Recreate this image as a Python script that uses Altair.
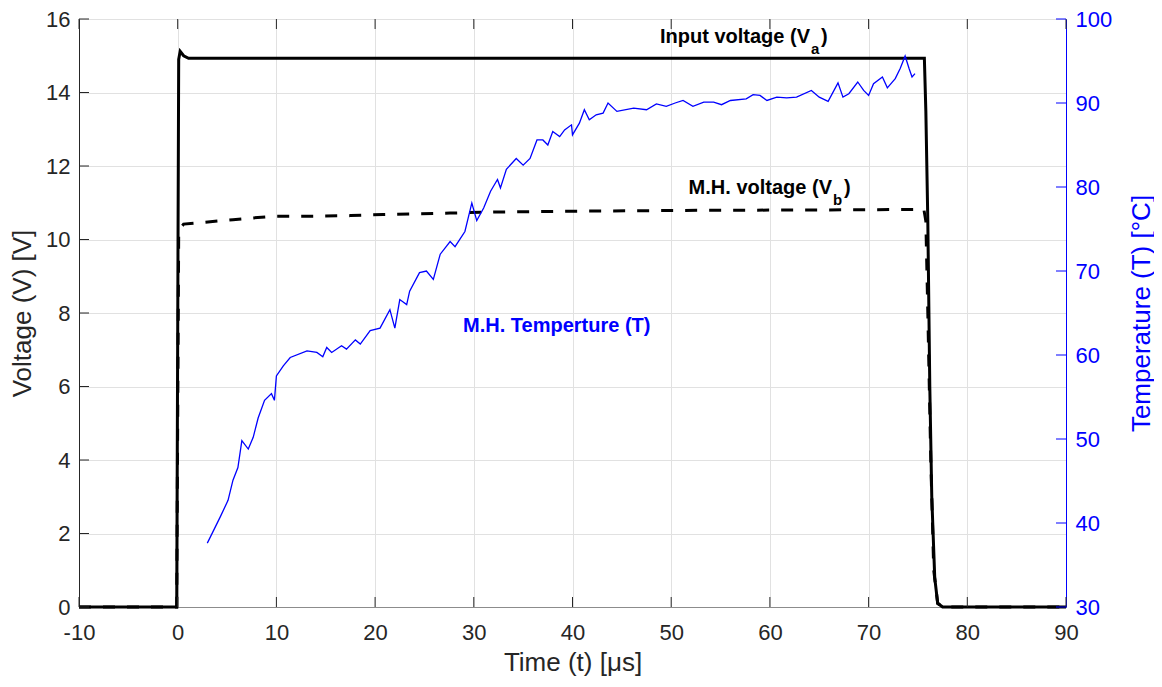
import altair as alt
import pandas as pd

# ---------------- data ----------------
# Input voltage (Va)
va_t = [-10, -0.1, 0.1, 0.25, 0.6, 1.1, 75.65, 75.8, 76.0, 76.2, 76.4, 76.7, 77.0, 77.5, 90]
va_v = [0, 0, 14.9, 15.12, 15.0, 14.93, 14.93, 13.5, 10.5, 6.0, 3.0, 0.8, 0.1, 0.0, 0]

# M.H. voltage (Vb)
vb_t = [-10, -0.1, 0.1, 0.3, 0.6, 1.9, 5.6, 7.3, 9.7, 12.4, 17.5, 20.8, 24.2, 27.6,
        32.6, 40, 50, 60, 70, 75.6, 75.8, 76.0, 76.3, 76.6, 77.0, 77.5, 90]
vb_v = [0, 0, 10.2, 10.31, 10.42, 10.45, 10.54, 10.58, 10.63, 10.63, 10.65, 10.68, 10.70, 10.72,
        10.75, 10.77, 10.79, 10.80, 10.81, 10.82, 10.5, 8.0, 4.0, 1.0, 0.1, 0, 0]

# M.H. temperature (T)
temp_t = [3.0, 4.3, 5.1, 5.6, 6.1, 6.5, 7.15, 7.65, 8.15, 8.8, 9.5, 9.8, 10.0, 10.7, 11.4,
          13.1, 14.1, 14.7, 15.1, 15.6, 16.6, 17.1, 18.0, 18.5, 19.5, 20.5, 21.5, 22.0,
          22.5, 23.2, 23.5, 24.5, 25.2, 25.9, 26.6, 27.6, 28.1, 29.1, 29.8, 30.3, 31.0,
          31.7, 32.4, 32.7, 33.3, 34.3, 35.0, 35.7, 36.4, 37.0, 37.5, 38.0, 38.7, 39.2,
          39.9, 40.0, 40.7, 41.2, 41.7, 42.4, 43.1, 43.6, 44.5, 46.2, 47.5, 48.5, 49.5,
          50.4, 51.2, 52.2, 53.3, 54.3, 55.1, 56.0, 57.6, 58.3, 59.0, 59.7, 60.7, 61.7,
          62.7, 64.2, 65.0, 65.9, 66.9, 67.4, 68.0, 68.9, 69.5, 70.0, 70.5, 71.4, 71.9,
          72.7, 73.2, 73.7, 74.1, 74.4, 74.7]
temp_T = [37.6, 40.7, 42.7, 45.1, 46.6, 49.8, 48.8, 50.2, 52.5, 54.6, 55.4, 54.6, 57.5, 58.7, 59.7,
          60.5, 60.3, 59.8, 60.9, 60.3, 61.1, 60.7, 61.8, 61.3, 62.9, 63.2, 65.4, 63.2,
          66.6, 66.0, 67.6, 69.8, 70.0, 69.0, 72.0, 73.5, 72.9, 74.7, 78.1, 76.0, 77.5,
          79.5, 80.9, 79.9, 82.1, 83.4, 82.6, 83.4, 85.6, 85.6, 85.0, 86.6, 86.0, 86.8,
          87.4, 86.2, 87.6, 89.2, 88.0, 88.6, 88.8, 90.0, 89.0, 89.4, 89.2, 89.9, 89.6,
          90.0, 90.3, 89.6, 90.1, 90.1, 89.8, 90.3, 90.5, 91.0, 90.9, 90.3, 90.7, 90.6,
          90.7, 91.5, 90.7, 90.2, 92.4, 90.7, 91.1, 92.5, 91.5, 90.9, 92.3, 93.1, 91.8,
          92.9, 94.1, 95.6, 94.1, 93.1, 93.5]

x_ticks = [-10, 0, 10, 20, 30, 40, 50, 60, 70, 80, 90]
v_ticks = [0, 2, 4, 6, 8, 10, 12, 14, 16]
t_ticks = [30, 40, 50, 60, 70, 80, 90, 100]

# annotation anchors (data coordinates)
ann_text = ["Input voltage (V", "M.H. voltage (V"]
ann_sub = ["a", "b"]
ann_t = [64.06, 66.29]
ann_v = [15.36, 11.25]
temp_label = "M.H. Temperture (T)"
temp_label_t = 38.4
temp_label_v = 7.47

# ---------------- chart ----------------
W, H = 987, 588
FONT = "Liberation Sans"
AX = "#262626"
BLUE = "#0000ff"
GRID = "#e1e1e1"

df_va = pd.DataFrame({"t": va_t, "v": va_v})
df_vb = pd.DataFrame({"t": vb_t, "v": vb_v})
df_T = pd.DataFrame({"t": temp_t, "T": temp_T})
df_xt = pd.DataFrame({"t": x_ticks})
df_vt = pd.DataFrame({"v": v_ticks})
df_tt = pd.DataFrame({"T": t_ticks})

LABEL_EXPR = "datum.value + ''"

x_axis = alt.Axis(values=x_ticks, title="Time (t) [μs]", grid=True, gridColor=GRID,
                  ticks=False, labelPadding=15, labelFlush=False, labelOverlap=False,
                  labelExpr=LABEL_EXPR,
                  domainColor="#8c8c8c", labelColor=AX, titleColor=AX,
                  labelFontSize=22, titleFontSize=26, labelFont=FONT, titleFont=FONT,
                  titleFontWeight="normal", titleBaseline="top", titleY=42)
X = alt.X("t:Q", scale=alt.Scale(domain=[-10, 90], nice=False, zero=False), axis=x_axis)

v_axis = alt.Axis(values=v_ticks, title="Voltage (V) [V]", grid=True, gridColor=GRID,
                  ticks=False, labelPadding=9, labelFlush=False, labelOverlap=False,
                  labelExpr=LABEL_EXPR,
                  domainColor=AX, labelColor=AX, titleColor=AX,
                  labelFontSize=22, titleFontSize=26, labelFont=FONT, titleFont=FONT,
                  titleFontWeight="normal", titleAngle=270, titleBaseline="bottom",
                  titleX=-44, titleY=H / 2)
YV = alt.Y("v:Q", scale=alt.Scale(domain=[0, 16], nice=False, zero=False), axis=v_axis)

t_axis = alt.Axis(orient="right", values=t_ticks, title="Temperature (T) [°C]", grid=False,
                  ticks=False, labelPadding=9, labelFlush=False, labelOverlap=False,
                  labelExpr=LABEL_EXPR,
                  domainColor=BLUE, labelColor=BLUE, titleColor=BLUE,
                  labelFontSize=22, titleFontSize=26, labelFont=FONT, titleFont=FONT,
                  titleFontWeight="normal", titleAngle=270, titleBaseline="top",
                  titleX=62, titleY=H / 2)
YT = alt.Y("T:Q", scale=alt.Scale(domain=[30, 100], nice=False, zero=False), axis=t_axis)

va_line = alt.Chart(df_va).mark_line(color="black", strokeWidth=3).encode(x=X, y=YV)
vb_line = alt.Chart(df_vb).mark_line(color="black", strokeWidth=3, strokeDash=[12, 12]).encode(x=X, y=YV)

tick_bottom = alt.Chart(df_xt).mark_rule(color=AX).encode(x=X, y=alt.value(H), y2=alt.value(H - 10))
tick_top = alt.Chart(df_xt).mark_rule(color=AX).encode(x=X, y=alt.value(0), y2=alt.value(10))
tick_left = alt.Chart(df_vt).mark_rule(color=AX).encode(y=YV, x=alt.value(0), x2=alt.value(10))

layers_v = [va_line, vb_line, tick_bottom, tick_top, tick_left]
for i in range(len(ann_text)):
    df_a = pd.DataFrame({"t": [ann_t[i]], "v": [ann_v[i]], "label": [ann_text[i]],
                         "sub": [ann_sub[i]], "par": [")"]})
    base = alt.Chart(df_a)
    layers_v.append(base.mark_text(align="right", baseline="alphabetic", fontSize=20,
                                   fontWeight="bold", font=FONT, color="black")
                    .encode(x=X, y=YV, text="label:N"))
    layers_v.append(base.mark_text(align="left", baseline="alphabetic", fontSize=15,
                                   fontWeight="bold", font=FONT, color="black", dx=1, dy=11)
                    .encode(x=X, y=YV, text="sub:N"))
    layers_v.append(base.mark_text(align="left", baseline="alphabetic", fontSize=20,
                                   fontWeight="bold", font=FONT, color="black",
                                   dx=11 if i == 0 else 12)
                    .encode(x=X, y=YV, text="par:N"))

df_tl = pd.DataFrame({"t": [temp_label_t], "v": [temp_label_v], "label": [temp_label]})
layers_v.append(alt.Chart(df_tl).mark_text(align="center", baseline="alphabetic", fontSize=20,
                                           fontWeight="bold", font=FONT, color=BLUE)
                .encode(x=X, y=YV, text="label:N"))

volt = alt.layer(*layers_v)

temp_line = alt.Chart(df_T).mark_line(color=BLUE, strokeWidth=1.3).encode(x=X, y=YT)
tick_right = alt.Chart(df_tt).mark_rule(color=BLUE).encode(y=YT, x=alt.value(W), x2=alt.value(W - 10))
temp = alt.layer(temp_line, tick_right)

chart = (
    alt.layer(volt, temp)
    .resolve_scale(y="independent")
    .properties(width=W, height=H, autosize=alt.AutoSizeParams(type="none"),
                padding={"left": 71, "top": 11, "right": 88, "bottom": 71},
                background="white")
    .configure_view(stroke="#404040", strokeWidth=1)
)

chart.save("out.html", embed_options={"renderer": "svg", "actions": False})
